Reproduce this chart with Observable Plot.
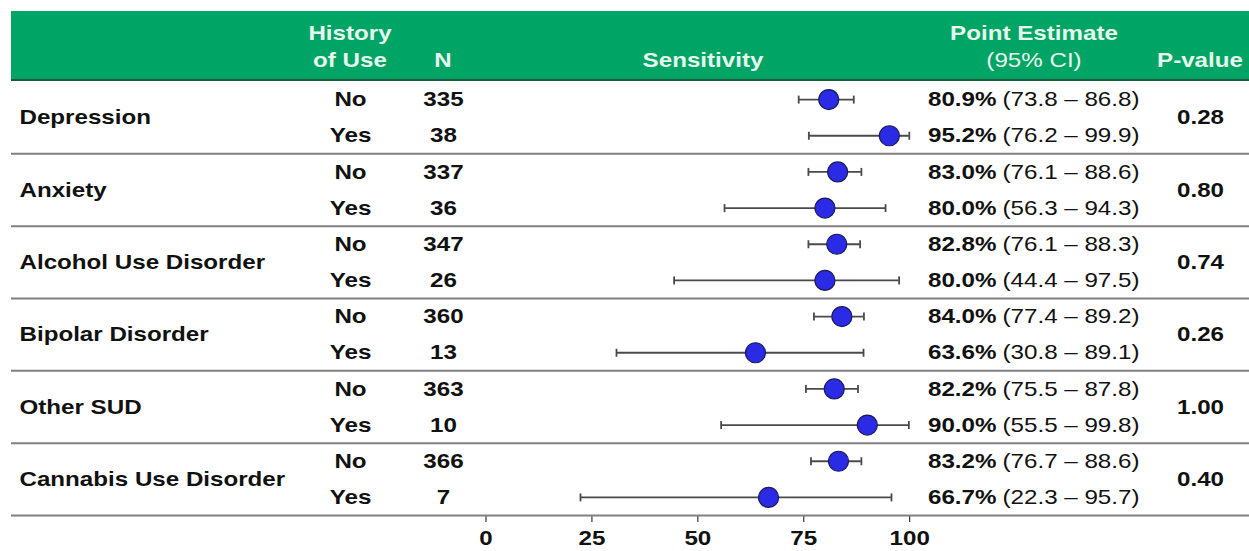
<!DOCTYPE html>
<html>
<head>
<meta charset="utf-8">
<script src="https://cdn.jsdelivr.net/npm/d3@7"></script>
<script src="https://cdn.jsdelivr.net/npm/@observablehq/plot@0.6"></script>
<style>
  html, body { margin: 0; padding: 0; background: #ffffff; }
  body { padding-top: 11px; }
  #chart svg { display: block; }
</style>
</head>
<body>
<div id="chart"></div>
<script>
// Subgroup sensitivity by history of use
const conditions = ["Depression", "Anxiety", "Alcohol Use Disorder", "Bipolar Disorder", "Other SUD", "Cannabis Use Disorder"];
const historyLevels = ["No", "Yes"];
const nCounts  = [335, 38, 337, 36, 347, 26, 360, 13, 363, 10, 366, 7];
const estimates = [80.9, 95.2, 83.0, 80.0, 82.8, 80.0, 84.0, 63.6, 82.2, 90.0, 83.2, 66.7];
const lowerCI   = [73.8, 76.2, 76.1, 56.3, 76.1, 44.4, 77.4, 30.8, 75.5, 55.5, 76.7, 22.3];
const upperCI   = [86.8, 99.9, 88.6, 94.3, 88.3, 97.5, 89.2, 89.1, 87.8, 99.8, 88.6, 95.7];
const pValues   = ["0.28", "0.80", "0.74", "0.26", "1.00", "0.40"];
const xTicks    = [0, 25, 50, 75, 100];

// Column headings (two lines in the green band)
const headLine1 = ["History", "Point Estimate"];
const headLine2 = ["of Use", "N", "Sensitivity", "(95% CI)", "P-value"];

// Layout: horizontal centres of the table columns, in pixels
const colX = {
  label: 19, history: 350, n: 443, sens: 703,
  pctEnd: 996, ciStart: 1002, est: 1034, p: 1200
};
const W = 1249, H = 540, ML = 11, MR = 0, MT = 70, MB = 36;

const green = "#00a464";
const headInk = "#e6f7ee";
const ink = "#111111";
const fontStack = "'Liberation Sans', Arial, Helvetica, sans-serif";

const rows = nCounts.map((n, i) => ({
  row: i,
  history: historyLevels[i % 2],
  n,
  est: estimates[i],
  lo: lowerCI[i],
  hi: upperCI[i]
}));
const groups = conditions.map((name, g) => ({
  name, p: pValues[g], mid: 2 * g + 0.5, end: 2 * g + 1.5
}));

const head1 = headLine1.map(t => ({t, x: t === "History" ? colX.history : colX.est}));
const head2 = headLine2.map(t => ({
  t,
  x: {"of Use": colX.history, "N": colX.n, "Sensitivity": colX.sens, "(95% CI)": colX.est, "P-value": colX.p}[t],
  normal: t === "(95% CI)"
}));

// Vertical bar symbol used for the CI end caps
const capSymbol = {
  draw(context, size) {
    const h = Math.sqrt(size / Math.PI);
    context.moveTo(0, -h);
    context.lineTo(0, h);
  }
};

// Green heading band with its column titles, drawn in the top margin
const headerBand = (index, scales, values, dims) => {
  const g = d3.create("svg:g");
  g.append("rect")
    .attr("x", dims.marginLeft).attr("y", 0)
    .attr("width", dims.width - dims.marginLeft - dims.marginRight)
    .attr("height", dims.marginTop - 1)
    .attr("fill", green);
  g.append("line")
    .attr("x1", dims.marginLeft).attr("x2", dims.width - dims.marginRight)
    .attr("y1", dims.marginTop - 1).attr("y2", dims.marginTop - 1)
    .attr("stroke", "#1d5a3a").attr("stroke-width", 2);
  const t = g.append("g")
    .attr("font-family", fontStack)
    .attr("font-size", 21)
    .attr("fill", headInk)
    .attr("text-anchor", "middle");
  t.selectAll("text.h1").data(head1).join("text")
    .attr("x", d => d.x).attr("y", dims.marginTop - 41)
    .attr("font-weight", "bold")
    .text(d => d.t);
  t.selectAll("text.h2").data(head2).join("text")
    .attr("x", d => d.x).attr("y", dims.marginTop - 14)
    .attr("font-weight", d => d.normal ? "normal" : "bold")
    .text(d => d.t);
  return g.node();
};

const chart = Plot.plot({
  width: W,
  height: H,
  marginLeft: ML,
  marginRight: MR,
  marginTop: MT,
  marginBottom: MB,
  style: {
    fontFamily: fontStack,
    fontSize: "21px",
    fontWeight: "bold",
    color: ink,
    background: "#ffffff",
    overflow: "visible"
  },
  x: {
    domain: [0, 100],
    range: [485.5, 909.2],
    ticks: xTicks,
    tickFormat: d => String(d),
    tickSize: 7,
    tickPadding: 8,
    label: null
  },
  y: { domain: [-0.5, 11.5], range: [MT, H - MB], axis: null },
  marks: [
    headerBand,
    Plot.ruleY(groups, { y: "end", stroke: "#808080", strokeWidth: 2 }),
    // row labels
    Plot.text(groups, { y: "mid", text: "name", frameAnchor: "left", dx: colX.label - ML, textAnchor: "start", fill: ink }),
    Plot.text(rows, { y: "row", text: "history", frameAnchor: "left", dx: colX.history - ML, textAnchor: "middle", fill: ink }),
    Plot.text(rows, { y: "row", text: d => String(d.n), frameAnchor: "left", dx: colX.n - ML, textAnchor: "middle", fill: ink }),
    // confidence intervals and point estimates
    Plot.ruleY(rows, { y: "row", x1: "lo", x2: "hi", stroke: "#4a4a4a", strokeWidth: 1.8 }),
    Plot.dot(rows, { x: "lo", y: "row", r: 4, symbol: capSymbol, stroke: "#4a4a4a", strokeWidth: 1.8, fill: "none" }),
    Plot.dot(rows, { x: "hi", y: "row", r: 4, symbol: capSymbol, stroke: "#4a4a4a", strokeWidth: 1.8, fill: "none" }),
    Plot.dot(rows, { x: "est", y: "row", r: 10, fill: "#2b2be6", stroke: "#1b1b58", strokeWidth: 1.2 }),
    // estimate text
    Plot.text(rows, { y: "row", text: d => d.est.toFixed(1) + "%", frameAnchor: "right", dx: colX.pctEnd - (W - MR), textAnchor: "end", fill: ink }),
    Plot.text(rows, { y: "row", text: d => `(${d.lo.toFixed(1)} \u2013 ${d.hi.toFixed(1)})`, frameAnchor: "right", dx: colX.ciStart - (W - MR), textAnchor: "start", fontWeight: "normal", fill: ink }),
    Plot.text(groups, { y: "mid", text: "p", frameAnchor: "right", dx: colX.p - (W - MR), textAnchor: "middle", fill: ink })
  ]
});

document.getElementById("chart").appendChild(chart);

// The typeface is set slightly wide: stretch every label horizontally
chart.querySelectorAll("text").forEach(t => {
  if (t.querySelector("tspan")) return;
  const w = t.getComputedTextLength();
  if (w > 0) {
    t.setAttribute("textLength", (w * 1.15).toFixed(1));
    t.setAttribute("lengthAdjust", "spacingAndGlyphs");
  }
});
</script>
</body>
</html>
